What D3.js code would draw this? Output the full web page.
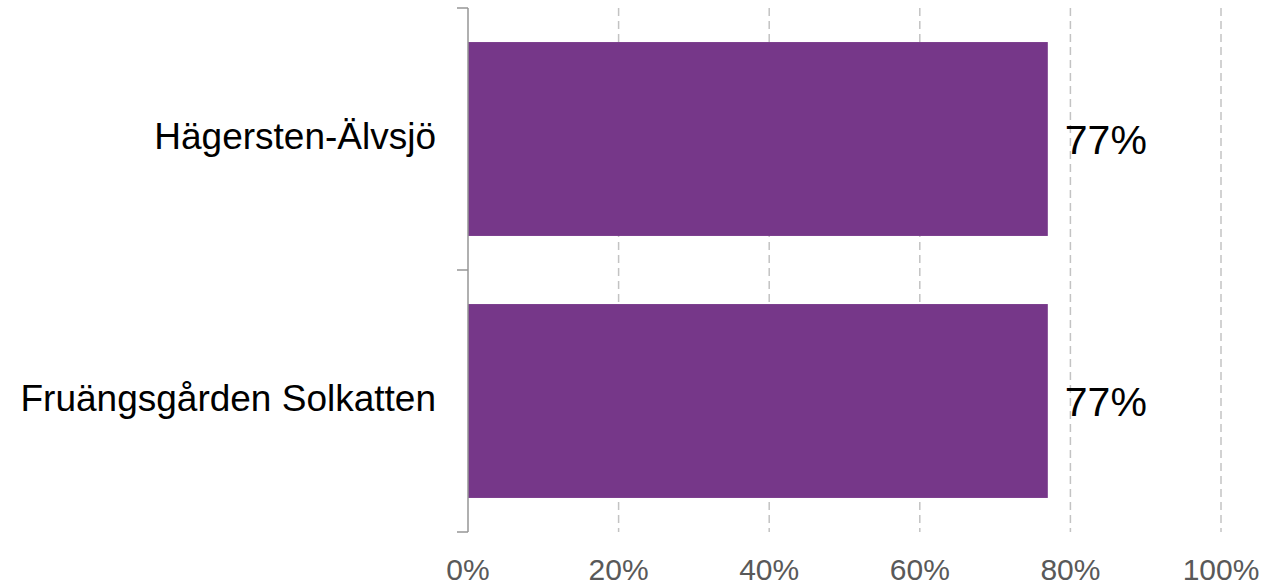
<!DOCTYPE html>
<html>
<head>
<meta charset="utf-8">
<script src="https://cdn.jsdelivr.net/npm/d3@7"></script>
<style>
  html, body { margin: 0; padding: 0; background: #fff; }
  svg { display: block; }
</style>
</head>
<body>
<svg id="chart" width="1281" height="588"></svg>
<script>
const categories = ["Hägersten-Älvsjö", "Fruängsgården Solkatten"];
const values = [77, 77];
const tickValues = [0, 20, 40, 60, 80, 100];
const tickLabels = ["0%", "20%", "40%", "60%", "80%", "100%"];

(function () {
const svg = d3.select("#chart");
const mLeft = 468, mRight = 1221, mTop = 8, mBottom = 532;
const font = "Liberation Sans, Arial, sans-serif";

const x = d3.scaleLinear().domain([0, 100]).range([mLeft, mRight]);
const y = d3.scaleBand().domain(categories).range([mTop, mBottom]).paddingInner(0.26).paddingOuter(0.13);

// gridlines
svg.append("g").selectAll("line").data(tickValues.slice(1)).join("line")
  .attr("x1", d => x(d)).attr("x2", d => x(d))
  .attr("y1", mTop).attr("y2", mBottom)
  .attr("stroke", "#c3c3c3").attr("stroke-width", 1.5)
  .attr("stroke-dasharray", "8,5");

// bars
svg.append("g").selectAll("rect").data(categories).join("rect")
  .attr("x", x(0)).attr("y", d => y(d))
  .attr("width", (d, i) => x(values[i]) - x(0))
  .attr("height", y.bandwidth())
  .attr("fill", "#763789");

// y axis line and ticks
const yAxisG = svg.append("g");
yAxisG.append("line").attr("x1", mLeft).attr("x2", mLeft).attr("y1", mTop).attr("y2", mBottom)
  .attr("stroke", "#969696").attr("stroke-width", 1.5);
const band = (mBottom - mTop) / categories.length;
const tickYs = d3.range(categories.length + 1).map(i => mTop + i * band);
yAxisG.selectAll("line.t").data(tickYs).join("line").attr("class", "t")
  .attr("x1", mLeft - 11).attr("x2", mLeft).attr("y1", d => d).attr("y2", d => d)
  .attr("stroke", "#969696").attr("stroke-width", 1.5);

// category labels
svg.append("g").selectAll("text").data(categories).join("text")
  .attr("x", 436).attr("y", d => y(d) + y.bandwidth() / 2 + 10)
  .attr("text-anchor", "end")
  .attr("font-family", font).attr("font-size", 37).attr("fill", "#000")
  .text(d => d);

// value labels
svg.append("g").selectAll("text").data(categories).join("text")
  .attr("x", (d, i) => x(values[i]) + 17)
  .attr("y", d => y(d) + y.bandwidth() / 2 + 15)
  .attr("font-family", font).attr("font-size", 41).attr("fill", "#000")
  .text((d, i) => values[i] + "%");

// x tick labels
svg.append("g").selectAll("text").data(tickValues).join("text")
  .attr("x", d => x(d)).attr("y", 580)
  .attr("text-anchor", "middle")
  .attr("font-family", font).attr("font-size", 30).attr("fill", "#595959")
  .text((d, i) => tickLabels[i]);
})();
</script>
</body>
</html>
